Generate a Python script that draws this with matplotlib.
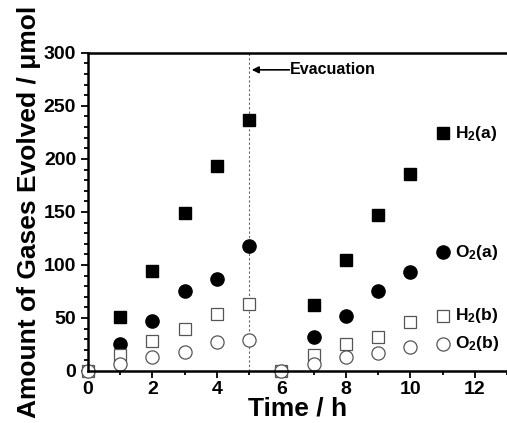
import matplotlib

matplotlib.use("Agg")
import matplotlib.pyplot as plt
from matplotlib.ticker import MultipleLocator

# time axis (h)
T_A = [1, 2, 3, 4, 5, 7, 8, 9, 10]
H2_A = [51, 94, 149, 193, 237, 62, 105, 147, 186]
O2_A = [25, 47.5, 75, 86.5, 118, 32, 52, 75, 93]

T_B = [0, 1, 2, 3, 4, 5, 6, 7, 8, 9, 10]
H2_B = [0, 15, 28, 40, 54, 63, 0, 15, 25, 32, 46]
O2_B = [0, 6.5, 13.5, 18, 27, 29, 0, 7, 13, 16.5, 23]

LABELS = [r"H$_2$(a)", r"O$_2$(a)", r"H$_2$(b)", r"O$_2$(b)"]
EVAC_T = 5

plt.rcParams.update({
    "font.family": ["Liberation Sans", "DejaVu Sans"],
    "font.weight": "bold",
    "mathtext.default": "regular",
})

fig = plt.figure(figsize=(5.07, 4.23), dpi=100)
ax = fig.add_axes([0.1736, 0.123, 0.8264, 0.752])

GRAY = "#555555"
styles = [
    dict(marker="s", ms=8.5, mfc="black", mec="black"),
    dict(marker="o", ms=9.5, mfc="black", mec="black"),
    dict(marker="s", ms=8.5, mfc="white", mec=GRAY, mew=0.9),
    dict(marker="o", ms=9.5, mfc="white", mec=GRAY, mew=0.9),
]
series = [(T_A, H2_A), (T_A, O2_A), (T_B, H2_B), (T_B, O2_B)]
for (t, v), st in zip(series, styles):
    ax.plot(t, v, ls="none", clip_on=False, zorder=2, **st)

ax.axvline(EVAC_T, color="#666666", ls=(0, (2, 2)), lw=0.8, zorder=1)
ax.annotate("", xy=(5.08, 284), xytext=(6.25, 284),
            arrowprops=dict(arrowstyle="-|>", color="black", lw=1.2,
                            mutation_scale=10, shrinkA=0, shrinkB=0))
ax.text(6.27, 284, "Evacuation", fontsize=11.5, fontweight="bold",
        va="center", ha="left")

# in-plot key
key_y = [224, 112, 52, 25.5]
for y, st, lab in zip(key_y, styles, LABELS):
    ax.plot([11], [y], ls="none", **st)
    ax.text(11.38, y, lab, fontsize=12.5, fontweight="bold", va="center", ha="left")

ax.set_xlim(0, 13)
ax.set_ylim(0, 300)
ax.xaxis.set_major_locator(MultipleLocator(2))
ax.xaxis.set_minor_locator(MultipleLocator(1))
ax.yaxis.set_major_locator(MultipleLocator(50))
ax.yaxis.set_minor_locator(MultipleLocator(10))
ax.tick_params(which="both", direction="out", width=1.3, labelsize=14)
ax.tick_params(which="major", length=5)
ax.tick_params(which="minor", length=3)
ax.tick_params(axis="x", pad=2)
for lab in ax.get_xticklabels() + ax.get_yticklabels():
    lab.set_fontweight("bold")

ax.spines["right"].set_visible(False)
for s in ("left", "bottom", "top"):
    ax.spines[s].set_linewidth(1.8)
    ax.spines[s].set_zorder(3)

ax.set_xlabel("Time / h", fontsize=19, fontweight="bold", labelpad=-1)
ax.set_ylabel("Amount of Gases Evolved / \u03bcmol", fontsize=19,
              fontweight="bold", labelpad=2)

fig.savefig("out.png", dpi=100)
